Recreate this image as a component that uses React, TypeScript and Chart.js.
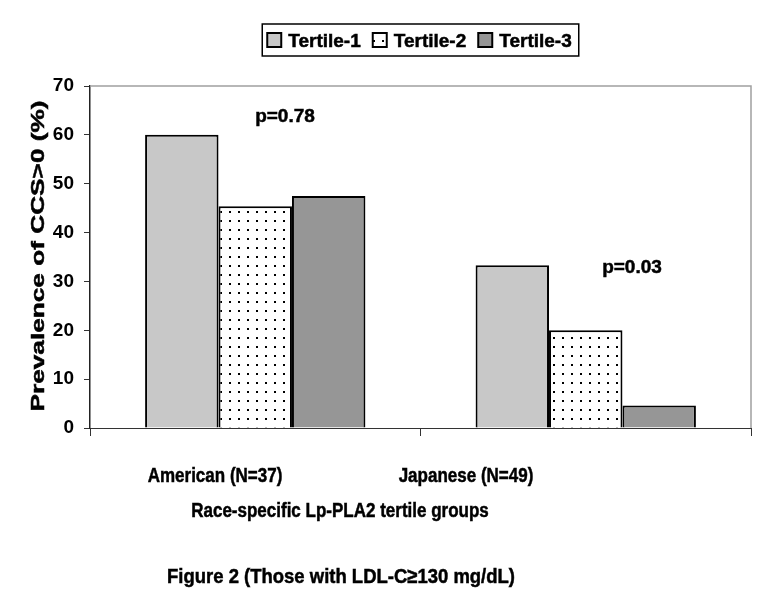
import React, { useEffect, useRef } from "react";
import { Chart, registerables } from "chart.js";

Chart.register(...registerables);

// ---- data ----
const categories = ["American (N=37)", "Japanese (N=49)"];
const seriesLabels = ["Tertile-1", "Tertile-2", "Tertile-3"];
const tertile1 = [60, 33.3];
const tertile2 = [45.4, 20];
const tertile3 = [47.5, 4.6];
const pLabels = ["p=0.78", "p=0.03"];
const yMin = 0;
const yMax = 70;
const yStep = 10;
const yTitle = "Prevalence of CCS>0 (%)";
const xTitle = "Race-specific Lp-PLA2 tertile groups";
const figTitle = "Figure 2 (Those with LDL-C\u2265130 mg/dL)";

// ---- layout / style ----
const W = 782;
const H = 613;
const FONT = "'Liberation Sans', Arial, Helvetica, sans-serif";
const catLabelX = [215, 466];
const catLabelBaseline = 482;
const pLabelPos = [
  { x: 285, y: 122 },
  { x: 632, y: 273 },
];

function makeDotPattern(): CanvasPattern | string {
  const c = document.createElement("canvas");
  c.width = 9;
  c.height = 9;
  const g = c.getContext("2d");
  if (!g) return "#fff";
  g.fillStyle = "#ffffff";
  g.fillRect(0, 0, 9, 9);
  g.fillStyle = "#000000";
  g.fillRect(4, 4, 2, 2);
  const p = g.createPattern(c, "repeat");
  return p || "#fff";
}

function drawText(
  ctx: CanvasRenderingContext2D,
  text: string,
  x: number,
  y: number,
  font: string,
  sx: number,
  rot = 0,
  heavy = 0.5
) {
  ctx.save();
  ctx.translate(x, y);
  if (rot) ctx.rotate(rot);
  ctx.scale(sx, 1);
  ctx.font = font;
  ctx.textAlign = "center";
  ctx.textBaseline = "alphabetic";
  ctx.fillStyle = "#000";
  ctx.fillText(text, 0, 0);
  if (heavy > 0) {
    ctx.strokeStyle = "#000";
    ctx.lineWidth = heavy;
    ctx.strokeText(text, 0, 0);
  }
  ctx.restore();
}

export default function App() {
  const ref = useRef<HTMLCanvasElement | null>(null);

  useEffect(() => {
    if (!ref.current) return;
    const pattern = makeDotPattern();
    const fills = ["#c8c8c8", pattern, "#969696"];
    const values = [tertile1, tertile2, tertile3];

    const decor = {
      id: "decor",
      afterDraw(chart: any) {
        const ctx: CanvasRenderingContext2D = chart.ctx;
        const a = chart.chartArea;
        // grey top/right frame
        ctx.save();
        ctx.strokeStyle = "#a0a0a0";
        ctx.lineWidth = 1.5;
        ctx.beginPath();
        ctx.moveTo(a.left, a.top);
        ctx.lineTo(a.right, a.top);
        ctx.lineTo(a.right, a.bottom);
        ctx.stroke();
        ctx.restore();

        // legend
        const lfont = `bold 19px ${FONT}`;
        ctx.save();
        ctx.font = lfont;
        const sq = 14;
        const gapText = 7;
        const gapItem = 12;
        const widths = seriesLabels.map((s) => ctx.measureText(s).width);
        let total = 0;
        widths.forEach((w, i) => {
          total += sq + gapText + w + (i < widths.length - 1 ? gapItem : 0);
        });
        const padL = 5;
        const padR = 7;
        const boxW = total + padL + padR;
        const boxTop = 24;
        const boxH = 32;
        const boxLeft = (a.left + a.right) / 2 - boxW / 2;
        ctx.strokeStyle = "#000";
        ctx.lineWidth = 1.5;
        ctx.strokeRect(boxLeft, boxTop, boxW, boxH);
        let x = boxLeft + padL;
        const sqTop = boxTop + (boxH - sq) / 2;
        seriesLabels.forEach((s, i) => {
          ctx.fillStyle = fills[i] as any;
          ctx.fillRect(x, sqTop, sq, sq);
          ctx.lineWidth = 2;
          ctx.strokeStyle = "#000";
          ctx.strokeRect(x, sqTop, sq, sq);
          ctx.fillStyle = "#000";
          ctx.textAlign = "left";
          ctx.textBaseline = "alphabetic";
          ctx.fillText(s, x + sq + gapText, boxTop + 23);
          ctx.lineWidth = 0.5;
          ctx.strokeText(s, x + sq + gapText, boxTop + 23);
          x += sq + gapText + widths[i] + gapItem;
        });
        ctx.restore();

        // p-value labels
        pLabels.forEach((t, i) => {
          drawText(ctx, t, pLabelPos[i].x, pLabelPos[i].y, `bold 19px ${FONT}`, 1);
        });

        // category labels
        categories.forEach((c, i) => {
          drawText(ctx, c, catLabelX[i], catLabelBaseline, `bold 21px ${FONT}`, 0.81);
        });

        // axis titles
        drawText(ctx, xTitle, 340, 517, `bold 20px ${FONT}`, 0.85);
        drawText(ctx, yTitle, 44, 256, `bold 19px ${FONT}`, 1.38, -Math.PI / 2);
        drawText(ctx, figTitle, 341, 583, `bold 21px ${FONT}`, 0.88);
      },
    };

    const chart = new Chart(ref.current, {
      type: "bar",
      data: {
        labels: categories,
        datasets: seriesLabels.map((s, i) => ({
          label: s,
          data: values[i],
          backgroundColor: fills[i] as any,
          borderColor: "#000",
          borderWidth: 2,
          categoryPercentage: 2 / 3,
          barPercentage: 1,
        })),
      },
      options: {
        responsive: false,
        animation: false,
        layout: { padding: { left: 0, right: 31, top: 86, bottom: 0 } },
        plugins: {
          legend: { display: false },
          title: { display: false },
          tooltip: { enabled: false },
        },
        scales: {
          x: {
            ticks: { display: false },
            grid: {
              display: true,
              drawOnChartArea: false,
              drawTicks: true,
              tickLength: 8,
              color: "#333",
              lineWidth: 1,
              offset: true,
            },
            border: { display: true, color: "#333", width: 1 },
            afterFit: (s: any) => {
              s.height = 185;
            },
          },
          y: {
            min: yMin,
            max: yMax,
            ticks: {
              stepSize: yStep,
              color: "#000",
              font: { family: FONT, size: 19, weight: "bold" },
              padding: 10,
            },
            grid: {
              display: true,
              drawOnChartArea: false,
              drawTicks: true,
              tickLength: 6,
              color: "#333",
              lineWidth: 1,
            },
            border: { display: true, color: "#222", width: 1.5 },
            afterFit: (s: any) => {
              s.width = 90;
            },
          },
        },
      },
      plugins: [decor],
    });
    return () => chart.destroy();
  }, []);

  return (
    <div style={{ position: "absolute", left: 0, top: 0, width: W, height: H, background: "#fff" }}>
      <canvas ref={ref} width={W} height={H} style={{ display: "block", width: W, height: H }} />
    </div>
  );
}
